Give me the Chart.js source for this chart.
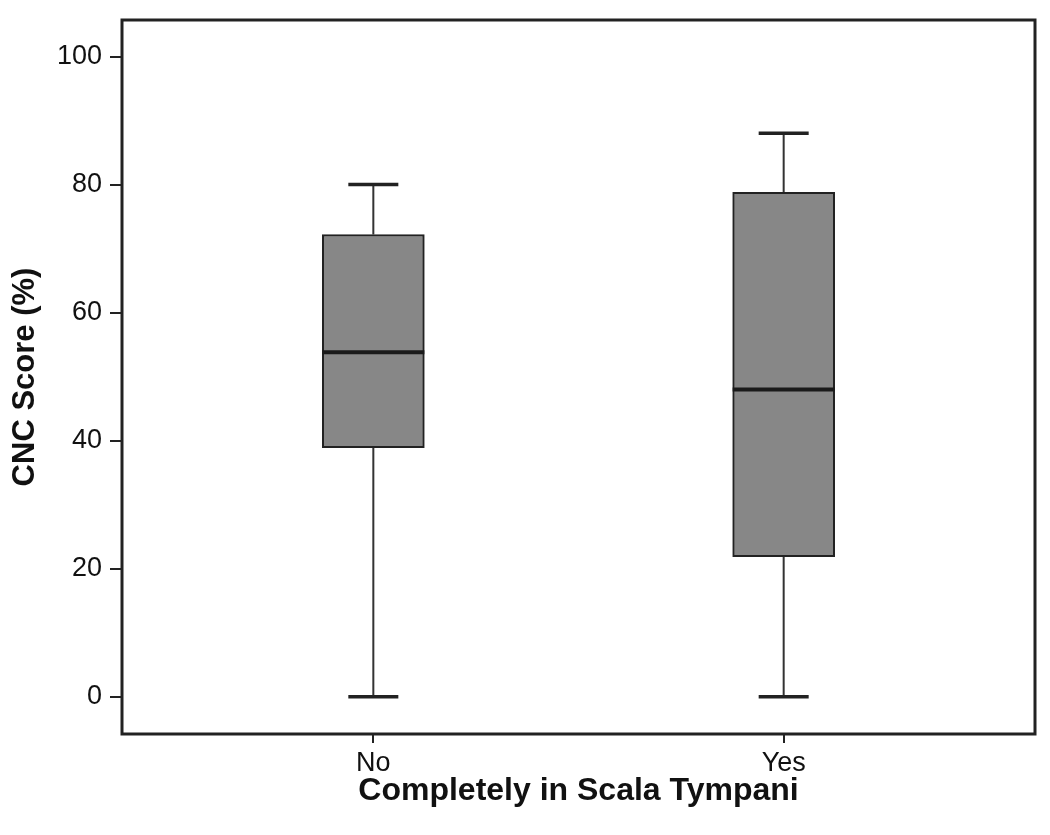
<!DOCTYPE html>
<html><head><meta charset="utf-8">
<script src="https://cdn.jsdelivr.net/npm/chart.js@4.4.1/dist/chart.umd.min.js"></script>
<style>html,body{margin:0;padding:0;background:#fff}#wrap{width:1050px;height:835px}</style>
</head><body><div id="wrap"><canvas id="c" width="1050" height="835"></canvas></div>
<script>
const categories = ['No', 'Yes'];
const minValues = [0, 0];
const q1Values = [38.9, 21.9];
const medianValues = [53.8, 48.0];
const q3Values = [72.2, 78.8];
const maxValues = [80, 88];
const yTickValues = [0, 20, 40, 60, 80, 100];
const xTickValues = [0, 1];
const yTitle = 'CNC Score (%)';
const xTitle = 'Completely in Scala Tympani';

Chart.defaults.font.family = '"Liberation Sans", Arial, Helvetica, sans-serif';
Chart.defaults.color = '#111';

const boxPlugin = {
  id: 'boxWhiskers',
  beforeDatasetsDraw(chart) {
    const ctx = chart.ctx, xs = chart.scales.x, ys = chart.scales.y;
    ctx.save();
    categories.forEach((c, i) => {
      const x = xs.getPixelForValue(xTickValues[i]);
      ctx.strokeStyle = '#333';
      ctx.lineWidth = 2;
      ctx.beginPath();
      ctx.moveTo(x, ys.getPixelForValue(minValues[i]));
      ctx.lineTo(x, ys.getPixelForValue(q1Values[i]));
      ctx.moveTo(x, ys.getPixelForValue(q3Values[i]));
      ctx.lineTo(x, ys.getPixelForValue(maxValues[i]));
      ctx.stroke();
      ctx.strokeStyle = '#222';
      ctx.lineWidth = 3.5;
      ctx.beginPath();
      [minValues[i], maxValues[i]].forEach(v => {
        const y = ys.getPixelForValue(v);
        ctx.moveTo(x - 25, y);
        ctx.lineTo(x + 25, y);
      });
      ctx.stroke();
    });
    ctx.restore();
  },
  afterDatasetsDraw(chart) {
    const ctx = chart.ctx, ys = chart.scales.y;
    const meta = chart.getDatasetMeta(0);
    ctx.save();
    ctx.strokeStyle = '#1a1a1a';
    ctx.lineWidth = 4;
    meta.data.forEach((bar, i) => {
      const y = ys.getPixelForValue(medianValues[i]);
      ctx.beginPath();
      ctx.moveTo(bar.x - bar.width / 2, y);
      ctx.lineTo(bar.x + bar.width / 2, y);
      ctx.stroke();
    });
    const a = chart.chartArea;
    ctx.strokeStyle = '#222';
    ctx.lineWidth = 3;
    ctx.strokeRect(a.left, a.top, a.right - a.left, a.bottom - a.top);
    ctx.restore();
  }
};

new Chart(document.getElementById('c'), {
  type: 'bar',
  data: {
    datasets: [{
      data: categories.map((c, i) => ({ x: xTickValues[i], y: [q1Values[i], q3Values[i]] })),
      backgroundColor: '#878787',
      borderColor: '#222',
      borderWidth: 2,
      borderSkipped: false,
      barThickness: 102
    }]
  },
  options: {
    responsive: false,
    devicePixelRatio: 1,
    animation: false,
    layout: { padding: { left: 0, right: 15, top: 20, bottom: 0 } },
    plugins: { legend: { display: false }, tooltip: { enabled: false } },
    scales: {
      x: {
        type: 'linear',
        offset: false,
        min: -0.6125,
        max: 1.6125,
        afterBuildTicks: s => { s.ticks = xTickValues.map(v => ({ value: v })); },
        afterFit: s => { s.height = 101; s.paddingLeft = 0; s.paddingRight = 0; },
        ticks: {
          callback: v => categories[xTickValues.indexOf(v)],
          font: { size: 27 },
          color: '#111',
          padding: 4,
          maxRotation: 0,
          autoSkip: false
        },
        grid: { offset: false, drawOnChartArea: false, drawTicks: true, tickLength: 9, color: '#222', lineWidth: 2 },
        border: { display: false },
        title: { display: true, text: xTitle, font: { size: 32, weight: 'bold', lineHeight: 1.2 }, color: '#111', padding: { top: 0, bottom: 25 } }
      },
      y: {
        min: -5.8,
        max: 105.7,
        afterBuildTicks: s => { s.ticks = yTickValues.map(v => ({ value: v })); },
        afterFit: s => { s.width = 122; s.paddingTop = 0; s.paddingBottom = 0; },
        ticks: { font: { size: 27 }, color: '#111', padding: 8 },
        grid: { drawOnChartArea: false, drawTicks: true, tickLength: 12, color: '#222', lineWidth: 2 },
        border: { display: false },
        title: { display: true, text: yTitle, font: { size: 31, weight: 'bold', lineHeight: 1.2 }, color: '#111', padding: { top: 7, bottom: 0 } }
      }
    }
  },
  plugins: [boxPlugin]
});
</script>
</body></html>
